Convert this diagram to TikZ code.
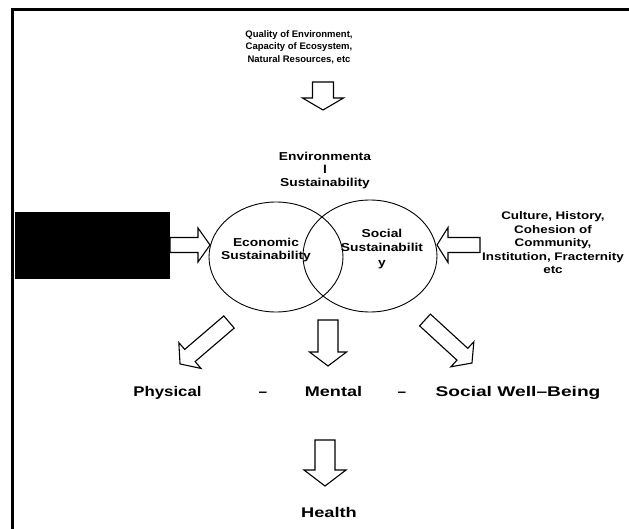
\documentclass[tikz,border=0pt]{standalone}
\usepackage{fontspec}
\setmainfont{Liberation Sans}
\usetikzlibrary{shapes.geometric}

% bold sans text: size, baseline skip, horizontal stretch
\newcommand\txt[3]{\bfseries\addfontfeature{FakeStretch=#3}\fontsize{#1}{#2}\selectfont}

% hollow block arrow: name, tail, angle, length, shaft half-width, head half-width, head length
\newcommand\blockarrow[7]{%
  \begin{scope}[shift={(#2)},rotate=#3]
    \coordinate (#1-tail) at (0,0);
    \coordinate (#1-tip) at (#4,0);
    \draw[barrow] (#1-tail) ++(0,#5) -- (#4-#7,#5) -- (#4-#7,#6) -- (#1-tip)
      -- (#4-#7,-#6) -- (#4-#7,-#5) -- (0,-#5) -- cycle;
  \end{scope}}

\tikzset{
  lbl/.style={inner sep=0pt, align=center},
  barrow/.style={draw=black, line width=1.1pt, fill=white, line join=miter},
  ring/.style={draw, ellipse, line width=0.9pt, minimum width=134pt,
               minimum height=110pt, inner sep=0pt},
  frameline/.style={line width=3.5pt},
}

\begin{document}
\begin{tikzpicture}[x=1pt,y=-1pt]
  \useasboundingbox (0,0) rectangle (629,529);

  % frame edges
  \draw[frameline] (12.5,529) -- (12.5,9.5) -- (629,9.5);

  % top input
  \node[lbl, font=\txt{9.5}{12.5}{1.0}] (envin) at (299,47)
    {Quality of Environment,\\Capacity of Ecosystem,\\Natural Resources, etc};
  \blockarrow{atop}{323,82}{-90}{28}{10.5}{20.5}{12}

  % environmental sustainability caption
  \node[lbl, font=\txt{11.5}{13}{1.2}] (envsus) at (325,171)
    {Environmenta\\l\\Sustainability};

  % the two overlapping sustainability circles
  \node[ring] (econ) at (276,257) {};
  \node[ring, minimum height=112pt] (soc) at (370,256) {};
  \node[lbl, font=\txt{11.5}{13}{1.2}] (econlbl) at (266,250)
    {Economic\\Sustainability};
  \node[lbl, font=\txt{11.5}{14.5}{1.2}] (soclbl) at (382,249)
    {Social\\Sustainabilit\\y};

  % left input box
  \node[fill=black, minimum width=155pt, minimum height=67pt, inner sep=0pt,
        anchor=north west] (ecoin) at (15,212) {};
  \blockarrow{aleft}{170,245}{0}{40}{7.5}{17}{12}

  % right input text
  \node[lbl, font=\txt{11}{13.5}{1.22}] (socin) at (553,243)
    {Culture, History,\\Cohesion of\\Community,\\Institution, Fracternity\\etc};
  \blockarrow{aright}{480,245}{180}{43}{7.5}{17.5}{11}

  % outputs towards well-being
  \blockarrow{adl}{229,322}{220.6}{64.5}{8}{17}{13}
  \blockarrow{adm}{328,320}{-90}{46}{10}{18.5}{14}
  \blockarrow{adr}{425,320}{-42.5}{63.7}{8}{17}{13}

  \node[lbl, anchor=base, font=\txt{14}{16}{1.2}] (phys) at (167.5,396) {Physical};
  \node[lbl, anchor=base, font=\txt{14}{16}{1.1}] (dash1) at (263,396) {--};
  \node[lbl, anchor=base, font=\txt{14}{16}{1.29}] (ment) at (333.5,396) {Mental};
  \node[lbl, anchor=base, font=\txt{14}{16}{1.1}] (dash2) at (402,396) {--};
  \node[lbl, anchor=base, font=\txt{14}{16}{1.37}] (social) at (518,396) {Social Well--Being};

  % final outcome
  \blockarrow{abot}{325,440}{-90}{46}{10}{21}{16}
  \node[lbl, anchor=base, font=\txt{14}{16}{1.3}] (health) at (329,517) {Health};
\end{tikzpicture}
\end{document}
